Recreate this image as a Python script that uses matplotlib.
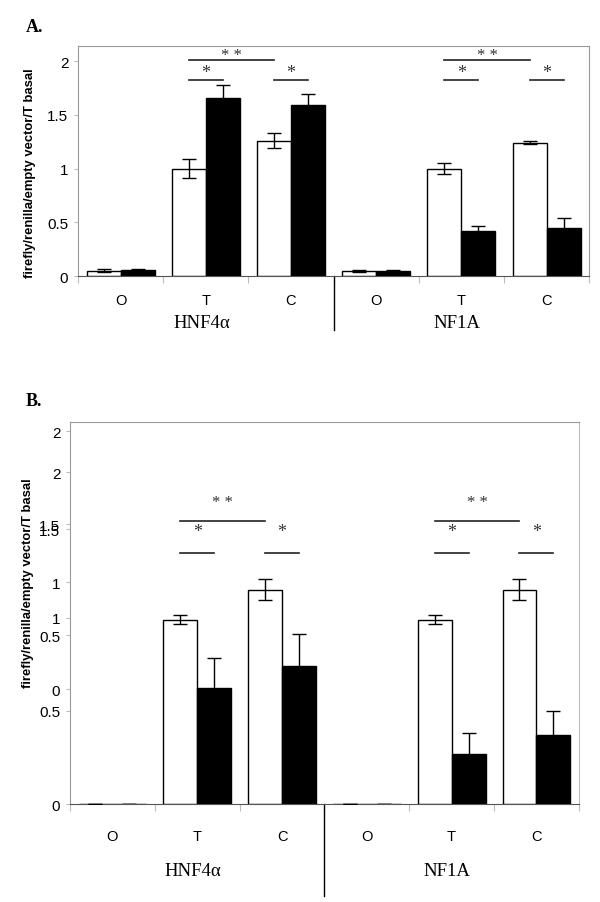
import numpy as np
import matplotlib.pyplot as plt
from matplotlib import transforms

# group / category labels
groups = ['HNF4\u03b1', 'NF1A']
cats = ['O', 'T', 'C', 'O', 'T', 'C']

# panel A values (white = basal, black = treated)
a_white = [0.05, 1.00, 1.26, 0.045, 1.00, 1.24]
a_white_err = [0.015, 0.09, 0.07, 0.01, 0.05, 0.015]
a_black = [0.055, 1.66, 1.59, 0.05, 0.42, 0.45]
a_black_err = [0.01, 0.12, 0.10, 0.01, 0.05, 0.09]

# panel B values
b_white = [0.0, 0.99, 1.15, 0.0, 0.99, 1.15]
b_white_err = [0.0, 0.025, 0.055, 0.0, 0.025, 0.055]
b_black = [0.0, 0.62, 0.74, 0.0, 0.27, 0.37]
b_black_err = [0.0, 0.165, 0.17, 0.0, 0.11, 0.13]

# panel B tick labels (two overlaid scales, as in the original)
b_ticks = [0, 0.5, 1, 1.5, 2, 0.617, 0.906, 1.19, 1.475, 1.78]
b_ticklabels = ['0', '0.5', '1', '1.5', '2', '0', '0.5', '1', '1.5', '2']

plt.rcParams['font.family'] = 'Liberation Sans'

fig = plt.figure(figsize=(6, 9.03), dpi=100)
axA = fig.add_axes([0.13, 0.6932, 0.852, 0.2547])
axB = fig.add_axes([0.1167, 0.1085, 0.848, 0.4231])

x = np.arange(6)


def draw_panel(ax, white, werr, black, berr, ymax, sig_line, sig_star, sig_text, sig_text2):
    ax.bar(x + 0.3, white, 0.4, color='white', edgecolor='black', linewidth=1, zorder=2)
    ax.bar(x + 0.7, black, 0.4, color='black', edgecolor='black', linewidth=1, zorder=2)
    ax.errorbar(x + 0.3, white, yerr=werr, fmt='none', ecolor='black', elinewidth=1, capsize=5, zorder=3)
    ax.errorbar(x + 0.7, black, yerr=berr, fmt='none', ecolor='black', elinewidth=1, capsize=5, zorder=1)
    ax.set_xlim(0, 6)
    ax.set_ylim(0, ymax)
    for s in ['top', 'right', 'left']:
        ax.spines[s].set_color('#999999')
    ax.spines['bottom'].set_color('#555555')
    ax.set_xticks(np.arange(7))
    ax.set_xticklabels([])
    ax.set_xticks(x + 0.5, minor=True)
    ax.set_xticklabels(cats, minor=True)
    ax.tick_params(axis='x', which='major', length=5, color='#bbbbbb', direction='out')
    ax.tick_params(axis='x', which='minor', length=0, labelsize=10.5)
    ax.tick_params(axis='y', length=3, color='#bbbbbb', labelsize=11, pad=4)
    # significance bars
    for g in [1, 4]:
        ax.plot([g + 0.3, g + 1.3], [sig_line, sig_line], color='#222222', lw=1.2)
        ax.text(g + 0.8, sig_text, '* *', ha='center', va='center', fontsize=12,
                family='Liberation Serif', color='#333333')
        for s in [g, g + 1]:
            ax.plot([s + 0.3, s + 0.7], [sig_star, sig_star], color='#222222', lw=1.2)
            ax.text(s + 0.5, sig_text2, '*', ha='center', va='center', fontsize=13,
                    family='Liberation Serif', color='#333333')
    ax.set_ylabel('firefly/renilla/empty vector/T basal', fontsize=9.4, fontweight='bold')


draw_panel(axA, a_white, a_white_err, a_black, a_black_err, 2.14, 2.01, 1.825, 2.06, 1.89)
axA.set_yticks([0, 0.5, 1, 1.5, 2])
axA.set_yticklabels(['0', '0.5', '1', '1.5', '2'])
axA.xaxis.set_tick_params(which='minor', pad=12)
axA.yaxis.set_label_coords(-0.082, 0.45)

draw_panel(axB, b_white, b_white_err, b_black, b_black_err, 2.05, 1.517, 1.346, 1.62, 1.46)
axB.set_yticks(b_ticks)
axB.set_yticklabels(b_ticklabels)
axB.xaxis.set_tick_params(which='minor', pad=18)
axB.spines['right'].set_color('#bbbbbb')
axB.yaxis.set_label_coords(-0.07, 0.58)

# group labels and separators
for ax, ysep, ylab in [(axA, -0.235, -0.2), (axB, -0.241, -0.173)]:
    tr = transforms.blended_transform_factory(ax.transData, ax.transAxes)
    ax.plot([3, 3], [0, ysep], color='black', lw=1, transform=tr, clip_on=False)
    for i, g in enumerate(groups):
        ax.text(1.45 + 3 * i, ylab, g, transform=tr, ha='center', va='center',
                fontsize=13.5, family='Liberation Serif')

fig.text(26 / 600, 1 - 27 / 903, 'A.', fontsize=13, fontweight='bold',
         family='Liberation Serif', ha='left', va='center')
fig.text(26 / 600, 1 - 402 / 903, 'B.', fontsize=13, fontweight='bold',
         family='Liberation Serif', ha='left', va='center')

plt.savefig('out.png', dpi=100)
